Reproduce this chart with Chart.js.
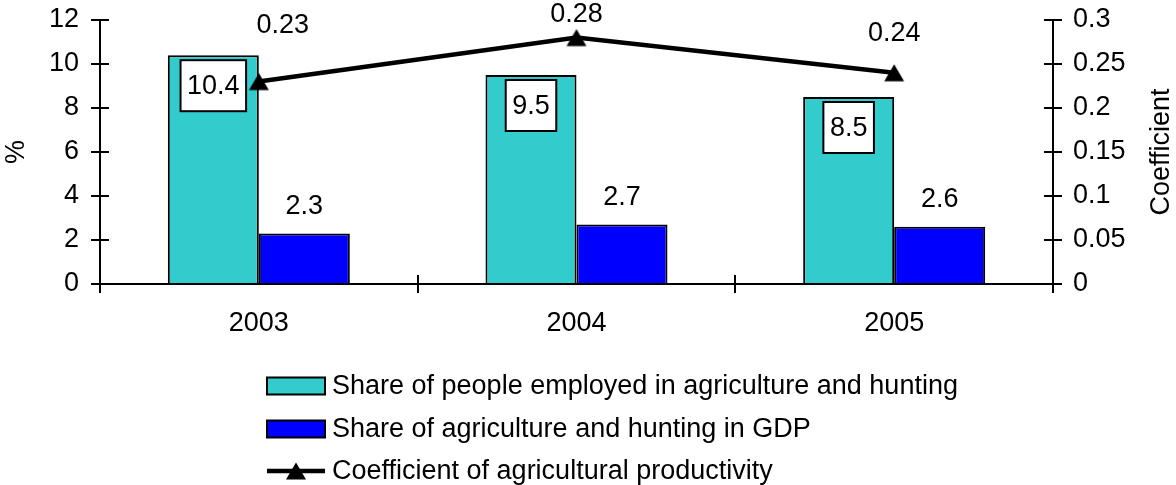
<!DOCTYPE html>
<html>
<head>
<meta charset="utf-8">
<script src="https://cdn.jsdelivr.net/npm/chart.js@4"></script>
<style>
html,body{margin:0;padding:0;background:#fff;}
canvas{display:block;}
</style>
</head>
<body>
<canvas id="c" width="1176" height="485"></canvas>
<script>
const categories = ['2003', '2004', '2005'];
const employedShare = [10.4, 9.5, 8.5];
const gdpShare = [2.3, 2.7, 2.6];
const productivity = [0.23, 0.28, 0.24];
const seriesNames = [
  'Share of people employed in agriculture and hunting',
  'Share of agriculture and hunting in GDP',
  'Coefficient of agricultural productivity'
];
const leftTitle = '%';
const rightTitle = 'Coefficient';

const FONT = '"Liberation Sans", Arial, sans-serif';
const FS = 27;

// label offsets for line labels (style only)
const lineLabelOffsets = [[24, -56], [0, -23], [0, -39]];

// triangle marker image (bbox-centred)
const tri = document.createElement('canvas');
tri.width = 22; tri.height = 20;
(function () {
  const c = tri.getContext('2d');
  c.fillStyle = '#000';
  c.beginPath();
  c.moveTo(11, 1.5); c.lineTo(21, 18.5); c.lineTo(1, 18.5); c.closePath();
  c.fill();
})();

const customPlugin = {
  id: 'custom',
  afterDatasetsDraw(chart) {
    const ctx = chart.ctx;
    ctx.save();
    ctx.font = FS + 'px ' + FONT;
    ctx.textAlign = 'center';
    ctx.textBaseline = 'middle';
    const m0 = chart.getDatasetMeta(0);
    m0.data.forEach((bar, i) => {
      const txt = String(chart.data.datasets[0].data[i]);
      const w = ctx.measureText(txt).width + 13;
      const h = 51;
      const top = bar.y + 5;
      ctx.fillStyle = '#fff';
      ctx.fillRect(bar.x - w / 2, top, w, h);
      ctx.strokeStyle = '#000';
      ctx.lineWidth = 2;
      ctx.strokeRect(bar.x - w / 2, top, w, h);
      ctx.fillStyle = '#000';
      ctx.fillText(txt, bar.x, top + h / 2 + 1);
    });
    const m1 = chart.getDatasetMeta(1);
    m1.data.forEach((bar, i) => {
      ctx.fillStyle = '#000';
      ctx.fillText(String(chart.data.datasets[1].data[i]), bar.x, bar.y - 27);
    });
    const m2 = chart.getDatasetMeta(2);
    m2.data.forEach((pt, i) => {
      const o = lineLabelOffsets[i];
      ctx.fillStyle = '#000';
      ctx.fillText(String(chart.data.datasets[2].data[i]), pt.x + o[0], pt.y + o[1]);
    });
    ctx.restore();
  },
  afterDraw(chart) {
    const ctx = chart.ctx;
    const ca = chart.chartArea;
    ctx.save();
    ctx.strokeStyle = '#000';
    ctx.lineWidth = 2;
    const yl = chart.scales.y, yr = chart.scales.y1, xs = chart.scales.x;
    yl.ticks.forEach(t => {
      const y = Math.round(yl.getPixelForValue(t.value));
      ctx.beginPath(); ctx.moveTo(ca.left, y); ctx.lineTo(ca.left + 9, y); ctx.stroke();
    });
    yr.ticks.forEach(t => {
      const y = Math.round(yr.getPixelForValue(t.value));
      ctx.beginPath(); ctx.moveTo(ca.right, y); ctx.lineTo(ca.right - 9, y); ctx.stroke();
    });
    for (let i = 0; i <= categories.length; i++) {
      const x = Math.round(xs.getPixelForValue(i - 0.5));
      ctx.beginPath(); ctx.moveTo(x, ca.bottom); ctx.lineTo(x, ca.bottom - 9); ctx.stroke();
    }
    ctx.fillStyle = '#000';
    ctx.font = FS + 'px ' + FONT;
    ctx.textAlign = 'center';
    ctx.textBaseline = 'middle';
    const cy = (ca.top + ca.bottom) / 2;
    ctx.save(); ctx.translate(17, cy); ctx.rotate(-Math.PI / 2); ctx.fillText(leftTitle, 0, 0); ctx.restore();
    ctx.save(); ctx.translate(1162, cy); ctx.rotate(-Math.PI / 2); ctx.fillText(rightTitle, 0, 0); ctx.restore();
    // legend
    const lx = 267, bw = 58, bh = 17, tx = 332;
    const rows = [386, 429, 471];
    ctx.textAlign = 'left';
    chart.data.datasets.forEach((ds, i) => {
      const y = rows[i];
      if (ds.type === 'line') {
        ctx.strokeStyle = ds.borderColor; ctx.lineWidth = 4.5;
        ctx.beginPath(); ctx.moveTo(lx, y); ctx.lineTo(lx + bw, y); ctx.stroke();
        ctx.drawImage(tri, lx + bw / 2 - tri.width / 2, y - tri.height / 2);
      } else {
        ctx.fillStyle = ds.backgroundColor;
        ctx.fillRect(lx, y - bh / 2, bw, bh);
        ctx.strokeStyle = '#000'; ctx.lineWidth = 2;
        ctx.strokeRect(lx, y - bh / 2, bw, bh);
      }
      ctx.fillStyle = '#000';
      ctx.fillText(ds.label, tx, y + 1);
    });
    ctx.restore();
  }
};

new Chart(document.getElementById('c'), {
  type: 'bar',
  data: {
    labels: categories,
    datasets: [
      { label: seriesNames[0], data: employedShare, backgroundColor: '#33CCCC', borderColor: '#000', borderWidth: 2, yAxisID: 'y', order: 2 },
      { label: seriesNames[1], data: gdpShare, backgroundColor: '#0000FF', borderColor: '#000', borderWidth: 2, yAxisID: 'y', order: 2 },
      { type: 'line', label: seriesNames[2], data: productivity, borderColor: '#000', backgroundColor: '#000', borderWidth: 4.5,
        pointStyle: tri, pointRadius: 11, pointHoverRadius: 11,
        yAxisID: 'y1', order: 1, tension: 0 }
    ]
  },
  options: {
    responsive: false,
    animation: false,
    events: [],
    categoryPercentage: 0.573,
    barPercentage: 1,
    layout: { padding: { top: 20, left: 0, right: 0, bottom: 0 } },
    plugins: { legend: { display: false }, tooltip: { enabled: false } },
    scales: {
      x: {
        grid: { offset: true, drawOnChartArea: false, drawTicks: true, tickLength: 9, color: '#000', lineWidth: 2 },
        border: { color: '#000', width: 2 },
        ticks: { color: '#000', font: { family: FONT, size: FS }, padding: 14 },
        afterFit(s) { s.height = 201; s.paddingLeft = 0; s.paddingRight = 0; }
      },
      y: {
        position: 'left', min: 0, max: 12,
        grid: { drawOnChartArea: false, drawTicks: true, tickLength: 9, color: '#000', lineWidth: 2 },
        border: { color: '#000', width: 2 },
        ticks: { stepSize: 2, color: '#000', font: { family: FONT, size: FS }, padding: 12 },
        afterFit(s) { s.width = 100; s.paddingTop = 0; s.paddingBottom = 0; }
      },
      y1: {
        position: 'right', min: 0, max: 0.3,
        grid: { drawOnChartArea: false, drawTicks: true, tickLength: 9, color: '#000', lineWidth: 2 },
        border: { color: '#000', width: 2 },
        ticks: { stepSize: 0.05, color: '#000', font: { family: FONT, size: FS }, padding: 11,
          callback: v => String(parseFloat(Number(v).toFixed(2))) },
        afterFit(s) { s.width = 123; s.paddingTop = 0; s.paddingBottom = 0; }
      }
    }
  },
  plugins: [customPlugin]
});
</script>
</body>
</html>
